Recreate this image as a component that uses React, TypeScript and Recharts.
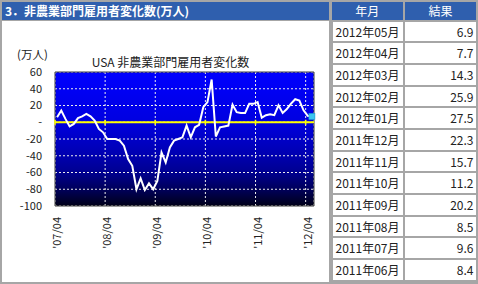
import { CartesianGrid, Line, LineChart, ReferenceArea, ReferenceLine, XAxis, YAxis } from 'recharts'

// monthly change, 万人, 2007/04 .. 2012/05
const months = [
  '2007/04', '2007/05', '2007/06', '2007/07', '2007/08', '2007/09', '2007/10', '2007/11', '2007/12',
  '2008/01', '2008/02', '2008/03', '2008/04', '2008/05', '2008/06', '2008/07', '2008/08', '2008/09', '2008/10', '2008/11', '2008/12',
  '2009/01', '2009/02', '2009/03', '2009/04', '2009/05', '2009/06', '2009/07', '2009/08', '2009/09', '2009/10', '2009/11', '2009/12',
  '2010/01', '2010/02', '2010/03', '2010/04', '2010/05', '2010/06', '2010/07', '2010/08', '2010/09', '2010/10', '2010/11', '2010/12',
  '2011/01', '2011/02', '2011/03', '2011/04', '2011/05', '2011/06', '2011/07', '2011/08', '2011/09', '2011/10', '2011/11', '2011/12',
  '2012/01', '2012/02', '2012/03', '2012/04', '2012/05',
]
const payrolls = [
  6, 14, 4, -5, -2, 5, 7, 10, 7,
  2, -8, -12, -20, -20, -20, -22, -28, -44, -52, -80, -67,
  -81, -73, -80, -70, -36, -48, -30, -22, -20, -18, -4, -18,
  -6, -3, 18, 24, 51, -17, -6, -5, -4, 21, 12, 11,
  11, 22, 22, 24, 5.4, 8.4, 9.6, 8.5, 20.2, 11.2, 15.7, 22.3,
  27.5, 25.9, 14.3, 7.7, 6.9,
]
const xTicks = [0, 12, 24, 36, 48, 60]
const xTickLabels = ["'07/04", "'08/04", "'09/04", "'10/04", "'11/04", "'12/04"]
const yTicks = [-100, -80, -60, -40, -20, 0, 20, 40, 60]

const tableMonths = [
  '2012年05月', '2012年04月', '2012年03月', '2012年02月', '2012年01月', '2011年12月',
  '2011年11月', '2011年10月', '2011年09月', '2011年08月', '2011年07月', '2011年06月',
]
const tableValues = [6.9, 7.7, 14.3, 25.9, 27.5, 22.3, 15.7, 11.2, 20.2, 8.5, 9.6, 8.4]

const FONT = '"Noto Sans CJK JP", sans-serif'
const BORDER = '#a6a6a6'
const HEADER = '#2f5fae'

// each month sits in the middle of its slot, ticks on slot edges
const chartData = months.map((month, i) => ({ month, pos: i + 0.5, value: payrolls[i] }))

function MonthTick({ x, y, payload }: any) {
  const label = xTickLabels[xTicks.indexOf(payload.value)]
  return (
    <text
      transform={`translate(${x + 6},${y + 11}) rotate(-90)`}
      textAnchor="end"
      fontSize={11}
      fill="#222"
      fontFamily={FONT}
    >
      {label}
    </text>
  )
}

function LastDot({ cx, cy, index }: any) {
  if (index !== payrolls.length - 1) return <g key={index} />
  return (
    <rect key={index} x={cx - 3} y={cy - 3} width={6} height={6} fill="#3cc6ef" stroke="#1f9fd2" strokeWidth={0.6} />
  )
}

export default function App() {
  return (
    <div
      style={{
        position: 'absolute',
        left: 0,
        top: 0,
        width: 478,
        height: 284,
        background: BORDER,
        fontFamily: FONT,
        overflow: 'hidden',
      }}
    >
      {/* left panel */}
      <div
        style={{
          position: 'absolute',
          left: 2,
          top: 2,
          width: 327,
          height: 17.5,
          background: HEADER,
          color: '#fff',
          fontSize: 12,
          fontWeight: 'bold',
          lineHeight: '17.5px',
          paddingLeft: 3,
          boxSizing: 'border-box',
          whiteSpace: 'nowrap',
        }}
      >
        3．非農業部門雇用者変化数(万人)
      </div>
      <div style={{ position: 'absolute', left: 2, top: 20.5, width: 327, height: 261, background: '#fff' }} />

      <div style={{ position: 'absolute', left: 17, top: 48, fontSize: 11.5, lineHeight: '13px', color: '#222' }}>
        (万人)
      </div>
      <div
        style={{
          position: 'absolute',
          left: 50,
          top: 53,
          width: 241,
          textAlign: 'center',
          fontSize: 12,
          lineHeight: '17px',
          color: '#222',
        }}
      >
        USA 非農業部門雇用者変化数
      </div>

      <div style={{ position: 'absolute', left: 0, top: 0 }}>
        <LineChart width={330} height={284} data={chartData} margin={{ top: 72, right: 16, bottom: 0, left: 0 }}>
          <defs>
            <linearGradient id="plotBg" x1="0" y1="0" x2="0" y2="1">
              <stop offset="0%" stopColor="#0000ff" />
              <stop offset="37%" stopColor="#0000e0" />
              <stop offset="62%" stopColor="#0000b0" />
              <stop offset="75%" stopColor="#000090" />
              <stop offset="88%" stopColor="#000058" />
              <stop offset="100%" stopColor="#000018" />
            </linearGradient>
          </defs>
          <CartesianGrid fill="url(#plotBg)" stroke="#ededed" strokeDasharray="2 2" />
          <XAxis
            dataKey="pos"
            type="number"
            domain={[0, 62]}
            ticks={xTicks}
            interval={0}
            height={78}
            axisLine={false}
            tickLine={false}
            tickSize={0}
            tickMargin={0}
            tick={<MonthTick />}
          />
          <YAxis
            type="number"
            domain={[-100, 60]}
            ticks={yTicks}
            interval={0}
            width={55}
            axisLine={false}
            tickLine={false}
            tickSize={0}
            tickMargin={13}
            tick={{ fontSize: 11, fill: '#222', fontFamily: FONT }}
            tickFormatter={(v: number) => (v === 0 ? '-' : String(v))}
          />
          <ReferenceArea x1={0} x2={62} y1={-100} y2={60} fill="none" stroke="#404040" strokeWidth={1} />
          <ReferenceLine y={0} stroke="#ffff00" strokeWidth={2} />
          {xTicks.map((t) => (
            <ReferenceLine
              key={t}
              segment={[
                { x: t, y: -3 },
                { x: t, y: 3 },
              ]}
              stroke="#ffff00"
              strokeWidth={1.5}
            />
          ))}
          <Line
            type="linear"
            dataKey="value"
            stroke="#ffffff"
            strokeWidth={2}
            dot={LastDot}
            activeDot={false}
            isAnimationActive={false}
          />
        </LineChart>
      </div>

      {/* table */}
      <div
        style={{
          position: 'absolute',
          left: 332,
          top: 2,
          width: 70.5,
          height: 17.5,
          background: HEADER,
          color: '#fff',
          fontSize: 12,
          lineHeight: '17.5px',
          textAlign: 'center',
        }}
      >
        年月
      </div>
      <div
        style={{
          position: 'absolute',
          left: 405,
          top: 2,
          width: 71,
          height: 17.5,
          background: HEADER,
          color: '#fff',
          fontSize: 12,
          lineHeight: '17.5px',
          textAlign: 'center',
        }}
      >
        結果
      </div>
      {tableMonths.map((m, k) => {
        const top = 21.7 + k * 21.67
        const cell = {
          position: 'absolute' as const,
          top,
          height: 19.5,
          background: '#fff',
          fontSize: 12,
          lineHeight: '19.5px',
          color: '#222',
          boxSizing: 'border-box' as const,
        }
        return (
          <div key={m}>
            <div style={{ ...cell, left: 332.5, width: 70, paddingLeft: 3 }}>{m}</div>
            <div style={{ ...cell, left: 405, width: 70.5, paddingRight: 2, textAlign: 'right' }}>
              {tableValues[k].toFixed(1)}
            </div>
          </div>
        )
      })}
    </div>
  )
}
